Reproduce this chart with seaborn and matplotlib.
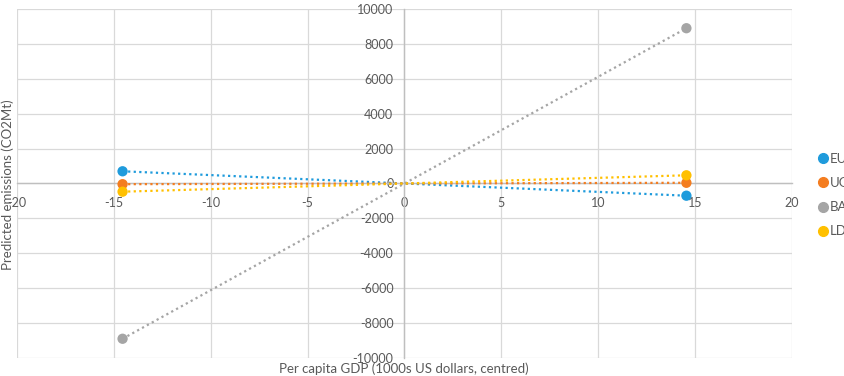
import matplotlib
matplotlib.use("Agg")
import matplotlib.pyplot as plt
import seaborn as sns
import pandas as pd
from matplotlib.lines import Line2D

# data
series = ["EU", "UG", "BA", "LD"]
gdp_low = [-14.55, -14.55, -14.55, -14.55]
gdp_high = [14.55, 14.55, 14.55, 14.55]
emis_low = [700, -40, -8900, -470]
emis_high = [-700, 40, 8900, 470]
colors = ["#1F9BDC", "#F47D20", "#A5A5A5", "#FFC000"]

rows = []
for s, x0, x1, y0, y1 in zip(series, gdp_low, gdp_high, emis_low, emis_high):
    rows.append({"series": s, "gdp": x0, "emissions": y0})
    rows.append({"series": s, "gdp": x1, "emissions": y1})
df = pd.DataFrame(rows)

sns.set_style("white")
plt.rcParams["font.family"] = ["Lato", "DejaVu Sans"]
plt.rcParams["axes.unicode_minus"] = False
text_col = "#595959"

fig = plt.figure(figsize=(8.44, 3.76), dpi=100)
ax = fig.add_axes([0.0201, 0.048, 0.9183, 0.928])

palette = dict(zip(series, colors))
# dotted trend lines
for s in series:
    sub = df[df["series"] == s]
    sns.lineplot(data=sub, x="gdp", y="emissions", color=palette[s], ax=ax,
                 linestyle=(0, (1, 1.5)), linewidth=1.6, legend=False, zorder=3)
sns.scatterplot(data=df, x="gdp", y="emissions", hue="series", palette=palette,
                s=55, edgecolor="none", ax=ax, legend=False, zorder=4)

ax.set_xlim(-20, 20)
ax.set_ylim(-10000, 10000)
ax.set_xticks(range(-20, 21, 5))
ax.set_yticks(range(-10000, 10001, 2000))
ax.grid(True, color="#D9D9D9", linewidth=0.9)
ax.set_axisbelow(True)

for side in ["top", "right"]:
    ax.spines[side].set_visible(False)
ax.spines["left"].set_position(("data", 0))
ax.spines["bottom"].set_position(("data", 0))
for side in ["left", "bottom"]:
    ax.spines[side].set_color("#BFBFBF")
    ax.spines[side].set_linewidth(1.0)
    ax.spines[side].set_zorder(2)

ax.tick_params(axis="both", length=0, labelsize=9, colors=text_col)
ax.tick_params(axis="x", pad=10)
ax.tick_params(axis="y", pad=8)

ax.set_xlabel("")
ax.set_ylabel("")
fig.text(0.479, 0.003, "Per capita GDP (1000s US dollars, centred)", ha="center",
         va="bottom", fontsize=9.5, color=text_col)
fig.text(0.002, 0.51, "Predicted emissions (CO2Mt)", ha="left", va="center",
         rotation=90, fontsize=9.5, color=text_col)

handles = [Line2D([], [], marker="o", linestyle="none", color=c, markersize=7)
           for c in colors]
fig.legend(handles, series, loc="center left", bbox_to_anchor=(0.96, 0.481),
           frameon=False, fontsize=9.5, labelcolor=text_col, handletextpad=-0.1,
           labelspacing=0.92, handlelength=1.2, borderaxespad=0)

fig.savefig("out.png", dpi=100)
